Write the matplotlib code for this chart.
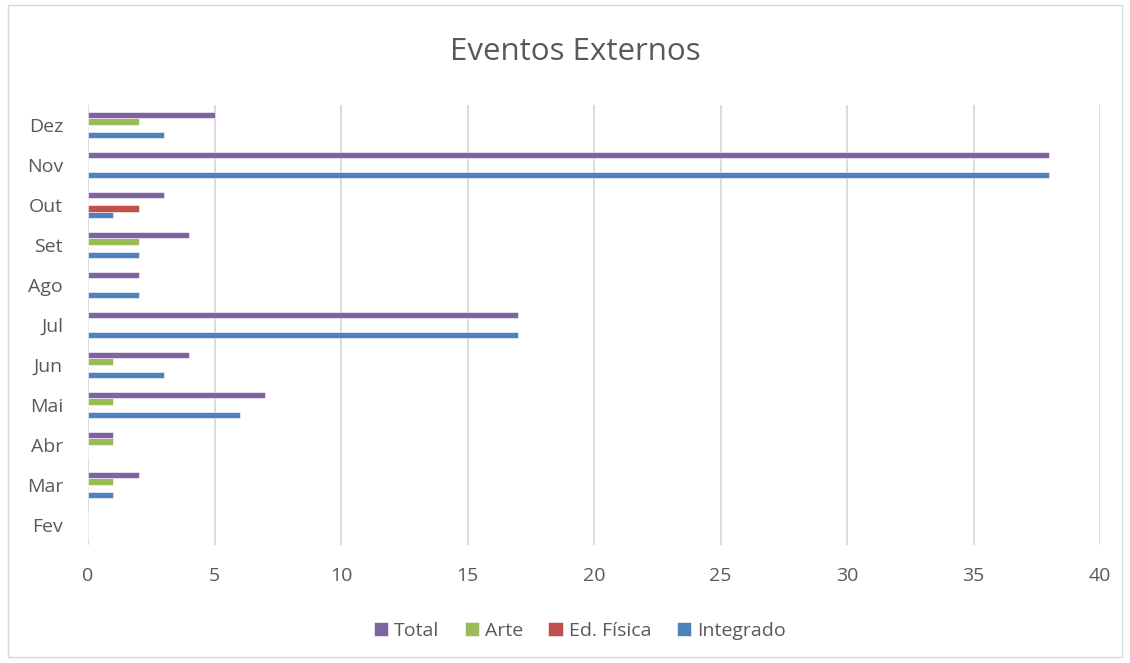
import matplotlib
matplotlib.use("Agg")
import matplotlib.pyplot as plt
import numpy as np
from matplotlib.patches import Rectangle

months = ["Fev", "Mar", "Abr", "Mai", "Jun", "Jul", "Ago", "Set", "Out", "Nov", "Dez"]
integrado = [0, 1, 0, 6, 3, 17, 2, 2, 1, 38, 3]
ed_fisica = [0, 0, 0, 0, 0, 0, 0, 0, 2, 0, 0]
arte = [0, 1, 1, 1, 1, 0, 0, 2, 0, 0, 2]
total = [0, 2, 1, 7, 4, 17, 2, 4, 3, 38, 5]
xticks = [0, 5, 10, 15, 20, 25, 30, 35, 40]

series = [("Integrado", integrado, "#4F81BD"),
          ("Ed. Física", ed_fisica, "#C0504D"),
          ("Arte", arte, "#9BBB59"),
          ("Total", total, "#8064A2")]

plt.rcParams['font.family'] = ['Open Sans', 'DejaVu Sans']
txt = "#595959"

fig = plt.figure(figsize=(11.3, 6.63), dpi=100)
ax = fig.add_axes([0.0779, 0.178, 0.8956, 0.6636])

y = np.arange(len(months))
h = 0.168
offsets = [-1.5 * h, -0.5 * h, 0.5 * h, 1.5 * h]
handles = {}
for (name, vals, col), off in zip(series, offsets):
    b = ax.barh(y + off, vals, height=h, color=col, edgecolor="white", linewidth=0.4, zorder=3, label=name)
    handles[name] = b

ax.set_xlim(0, 40)
ax.set_ylim(-0.5, len(months) - 0.5)
ax.set_yticks(y)
ax.set_yticklabels(months, fontsize=14, color=txt)
ax.set_xticks(xticks)
ax.set_xticklabels([str(v) for v in xticks], fontsize=14, color=txt)
ax.tick_params(axis='both', length=0)
ax.tick_params(axis='x', pad=16)
ax.tick_params(axis='y', pad=18)
for s in ax.spines.values():
    s.set_visible(False)
ax.grid(axis='x', color="#D9D9D9", linewidth=1.3, zorder=0)
ax.set_axisbelow(True)

fig.text(0.509, 0.922, "Eventos Externos", ha="center", va="center", fontsize=22.5, color=txt)

order = ["Total", "Arte", "Ed. Física", "Integrado"]
leg = fig.legend([handles[n] for n in order], order, loc="center", bbox_to_anchor=(0.513, 0.049),
                 ncol=4, frameon=False, fontsize=14, handlelength=0.75, handleheight=0.75,
                 handletextpad=0.3, columnspacing=1.3, labelcolor=txt)

fig.patches.append(Rectangle((0.007, 0.009), 0.986, 0.983, transform=fig.transFigure,
                             fill=False, edgecolor="#D9D9D9", linewidth=1))

fig.savefig("out.png", dpi=100)
